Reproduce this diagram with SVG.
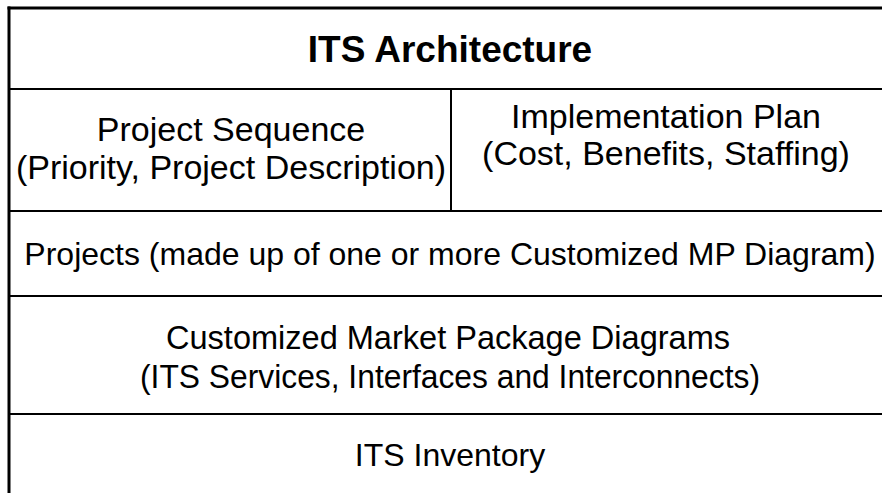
<svg xmlns="http://www.w3.org/2000/svg" width="882" height="493" viewBox="0 0 882 493">
<style>
.t{font-family:"Liberation Sans",Arial,sans-serif;font-size:32px;fill:#000;text-anchor:middle}
.m{font-size:34px}
.b{font-weight:bold;font-size:37px}
.ln{stroke:#000;stroke-width:2;fill:none}
.th{stroke:#000;stroke-width:3;fill:none}
</style>
<rect width="882" height="493" fill="#fff"/>
<g id="connectors">
<line class="th" x1="7.5" y1="8" x2="882" y2="8"/>
<line class="th" x1="9" y1="6.5" x2="9" y2="493"/>
<line class="ln" x1="9" y1="89" x2="882" y2="89"/>
<line class="ln" x1="451" y1="89" x2="451" y2="211"/>
<line class="ln" x1="9" y1="211" x2="882" y2="211"/>
<line class="ln" x1="9" y1="296" x2="882" y2="296"/>
<line class="ln" x1="9" y1="414" x2="882" y2="414"/>
</g>
<g id="title"><text class="t b" x="450" y="62">ITS Architecture</text></g>
<g id="sequence">
<text class="t m" x="231" y="141">Project Sequence</text>
<text class="t m" x="231" y="179">(Priority, Project Description)</text>
</g>
<g id="plan">
<text class="t m" x="666" y="128">Implementation Plan</text>
<text class="t m" x="666" y="165">(Cost, Benefits, Staffing)</text>
</g>
<g id="projects"><text class="t" x="450" y="265">Projects (made up of one or more Customized MP Diagram)</text></g>
<g id="diagrams">
<text class="t m" x="448" y="349" textLength="564" lengthAdjust="spacingAndGlyphs">Customized Market Package Diagrams</text>
<text class="t m" x="450" y="388" textLength="620" lengthAdjust="spacingAndGlyphs">(ITS Services, Interfaces and Interconnects)</text>
</g>
<g id="inventory"><text class="t" x="450" y="466">ITS Inventory</text></g>
</svg>
